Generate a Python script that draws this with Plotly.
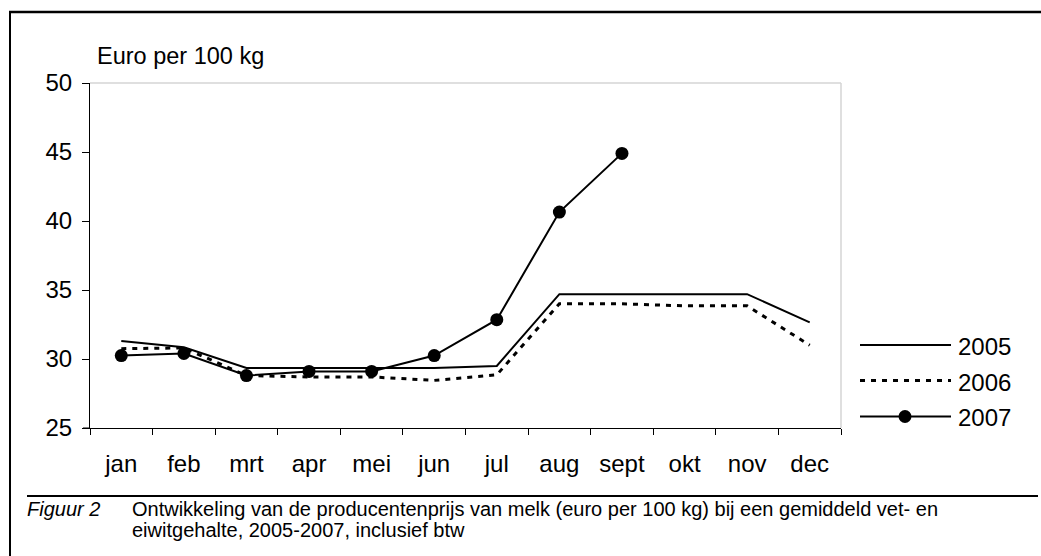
import plotly.graph_objects as go

months = ["jan", "feb", "mrt", "apr", "mei", "jun", "jul", "aug", "sept", "okt", "nov", "dec"]
y2005 = [31.3, 30.85, 29.35, 29.35, 29.35, 29.35, 29.5, 34.7, 34.7, 34.7, 34.7, 32.65]
y2006 = [30.75, 30.8, 28.8, 28.7, 28.7, 28.45, 28.85, 34.0, 34.0, 33.85, 33.85, 31.0]
y2007 = [30.25, 30.4, 28.8, 29.1, 29.1, 30.25, 32.85, 40.65, 44.9]
series_names = ["2005", "2006", "2007"]
y_ticks = [25, 30, 35, 40, 45, 50]

W, H = 1041, 556
L, R, T, B = 90, 841, 83, 428
FONT = "Liberation Sans, Arial, sans-serif"

def px(x):
    return (x - L) / (R - L)

def py(y):
    return (B - y) / (B - T)

fig = go.Figure()
fig.add_trace(go.Scatter(x=months, y=y2005, mode="lines", name=series_names[0],
                         line=dict(color="black", width=2)))
fig.add_trace(go.Scatter(x=months, y=y2006, mode="lines", name=series_names[1],
                         line=dict(color="black", width=3, dash="5px,6px")))
fig.add_trace(go.Scatter(x=months[:len(y2007)], y=y2007, mode="lines+markers", name=series_names[2],
                         line=dict(color="black", width=2),
                         marker=dict(color="black", size=13, symbol="circle")))

shapes = []
shapes.append(dict(type="line", xref="paper", yref="paper", x0=0, x1=1, y0=1, y1=1,
                   line=dict(color="#d4d4d4", width=1.5)))
shapes.append(dict(type="line", xref="paper", yref="paper", x0=1, x1=1, y0=0, y1=1,
                   line=dict(color="#d4d4d4", width=1.5)))
shapes.append(dict(type="line", xref="paper", yref="paper", x0=px(83), x1=0, y0=0, y1=0,
                   line=dict(color="black", width=1)))
shapes.append(dict(type="line", xref="paper", yref="paper", x0=px(9), x1=px(1041), y0=py(12), y1=py(12),
                   line=dict(color="black", width=2.5)))
shapes.append(dict(type="line", xref="paper", yref="paper", x0=px(10), x1=px(10), y0=py(11), y1=py(556),
                   line=dict(color="black", width=2)))
shapes.append(dict(type="line", xref="paper", yref="paper", x0=px(27), x1=px(1038), y0=py(496), y1=py(496),
                   line=dict(color="black", width=2)))

leg_y = [345, 380.5, 416.5]
leg_txt_y = [346, 382, 417]
dashes = ["solid", "5px,6px", "solid"]
widths = [2, 3, 2]
annotations = []
for i, name in enumerate(series_names):
    shapes.append(dict(type="line", xref="paper", yref="paper", x0=px(860), x1=px(951),
                       y0=py(leg_y[i]), y1=py(leg_y[i]),
                       line=dict(color="black", width=widths[i], dash=dashes[i])))
    annotations.append(dict(xref="paper", yref="paper", x=px(956), y=py(leg_txt_y[i]),
                            text=name, showarrow=False, xanchor="left", yanchor="middle",
                            font=dict(family=FONT, size=24, color="black")))
shapes.append(dict(type="circle", xref="paper", yref="paper",
                   x0=px(905 - 6.5), x1=px(905 + 6.5), y0=py(416.5 - 6.5), y1=py(416.5 + 6.5),
                   fillcolor="black", line=dict(color="black", width=0)))

annotations.append(dict(xref="paper", yref="paper", x=px(95), y=py(56), text="Euro per 100 kg",
                        showarrow=False, xanchor="left", yanchor="middle",
                        font=dict(family=FONT, size=23.5, color="black")))
annotations.append(dict(xref="paper", yref="paper", x=px(25), y=py(509), text="<i>Figuur 2</i>",
                        showarrow=False, xanchor="left", yanchor="middle",
                        font=dict(family=FONT, size=20, color="black")))
annotations.append(dict(xref="paper", yref="paper", x=px(130), y=py(509),
                        text="Ontwikkeling van de producentenprijs van melk (euro per 100 kg) bij een gemiddeld vet- en",
                        showarrow=False, xanchor="left", yanchor="middle",
                        font=dict(family=FONT, size=20, color="black")))
annotations.append(dict(xref="paper", yref="paper", x=px(130), y=py(530),
                        text="eiwitgehalte, 2005-2007, inclusief btw",
                        showarrow=False, xanchor="left", yanchor="middle",
                        font=dict(family=FONT, size=20, color="black")))

fig.update_layout(
    width=W, height=H,
    margin=dict(l=L, r=W - R, t=T, b=H - B, pad=0),
    paper_bgcolor="white", plot_bgcolor="white",
    showlegend=False,
    font=dict(family=FONT, size=24, color="black"),
    xaxis=dict(type="category", categoryorder="array", categoryarray=months,
               range=[-0.5, 11.5], showgrid=False, zeroline=False,
               showline=True, linecolor="black", linewidth=1,
               ticks="outside", tickson="boundaries", ticklen=6, tickcolor="black",
               tickfont=dict(family=FONT, size=24), ticklabelstandoff=14),
    yaxis=dict(range=[25, 50], tickvals=y_ticks, showgrid=False, zeroline=False,
               showline=True, linecolor="black", linewidth=1,
               ticks="outside", ticklen=7, tickcolor="black",
               tickfont=dict(family=FONT, size=24), ticklabelstandoff=5),
    shapes=shapes,
    annotations=annotations,
)

fig.write_html("out.html", config={"displayModeBar": False},
               post_script="document.body.style.margin='0';document.body.style.padding='0';")
